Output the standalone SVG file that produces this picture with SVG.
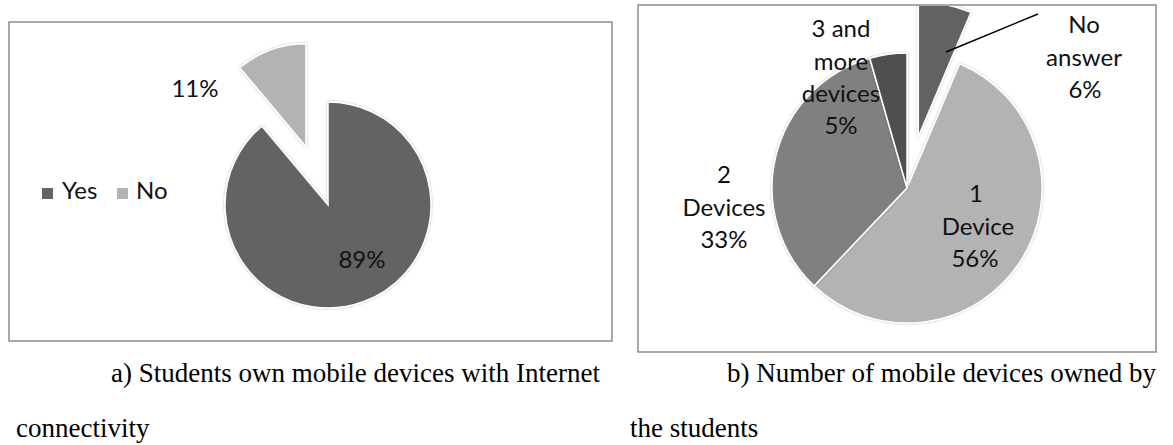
<svg xmlns="http://www.w3.org/2000/svg" width="1173" height="445" viewBox="0 0 1173 445">
  <style>
    .frame { fill: #ffffff; stroke: #8c8c8c; stroke-width: 1.5; }
    .slice { stroke: #ffffff; stroke-width: 1.5; stroke-linejoin: miter; filter: url(#soft); }
    .lbl { font-family: "Lato", "Liberation Sans", sans-serif; font-size: 24px; fill: #111111; text-anchor: middle; }
    .leg { font-family: "Lato", "Liberation Sans", sans-serif; font-size: 24px; fill: #111111; }
    .cap { font-family: "Liberation Serif", "Times New Roman", serif; font-size: 27px; fill: #000000; }
    .leader { stroke: #000000; stroke-width: 1.4; fill: none; }
  </style>
  <defs>
    <filter id="soft" x="-10%" y="-10%" width="120%" height="120%">
      <feDropShadow dx="0" dy="0" stdDeviation="1.3" flood-color="#000000" flood-opacity="0.3"/>
    </filter>
    <clipPath id="plotB">
      <rect x="639" y="6" width="516" height="345"/>
    </clipPath>
  </defs>

  <rect width="1173" height="445" fill="#ffffff"/>

  <!-- Chart a: internet-connected devices -->
  <g id="chart-a">
    <rect class="frame" x="9" y="22" width="603" height="319"/>
    <g id="slice-yes">
      <path class="slice" fill="#646464" d="M328,205 L328,102 A103,103 0 1 1 261.8,126.1 Z"/>
      <text class="lbl" x="362" y="268">89%</text>
    </g>
    <g id="slice-no">
      <path class="slice" fill="#b3b3b3" d="M306,146.7 L239.8,67.8 A103,103 0 0 1 306,43.7 Z"/>
      <text class="lbl" x="195" y="97">11%</text>
    </g>
    <g id="legend-a">
      <rect x="42" y="188" width="11" height="11" fill="#646464"/>
      <text class="leg" x="62" y="199">Yes</text>
      <rect x="117" y="188" width="11" height="11" fill="#b3b3b3"/>
      <text class="leg" x="136" y="199">No</text>
    </g>
  </g>

  <!-- Chart b: number of devices -->
  <g id="chart-b">
    <rect class="frame" x="638" y="5" width="518" height="347"/>
    <g id="slice-no-answer" clip-path="url(#plotB)">
      <path class="slice" fill="#626262" d="M918.3,136.7 L918.3,1.7 A135,135 0 0 1 971,12.4 Z"/>
    </g>
    <g id="slice-one">
      <path class="slice" fill="#b3b3b3" d="M907,188 L959.7,63.7 A135,135 0 1 1 814.1,285.9 Z"/>
      <text class="lbl" x="976" y="202">1</text>
      <text class="lbl" x="978" y="235">Device</text>
      <text class="lbl" x="975" y="267">56%</text>
    </g>
    <g id="slice-two">
      <path class="slice" fill="#808080" d="M907,188 L814.1,285.9 A135,135 0 0 1 869.8,58.2 Z"/>
      <text class="lbl" x="724" y="183">2</text>
      <text class="lbl" x="724" y="216">Devices</text>
      <text class="lbl" x="724" y="248">33%</text>
    </g>
    <g id="slice-three">
      <path class="slice" fill="#505050" d="M907,188 L869.8,58.2 A135,135 0 0 1 907,53 Z"/>
    </g>
    <g id="label-three">
      <text class="lbl" x="841" y="37">3 and</text>
      <text class="lbl" x="841" y="70">more</text>
      <text class="lbl" x="841" y="102">devices</text>
      <text class="lbl" x="841" y="134">5%</text>
    </g>
    <g id="label-no-answer">
      <text class="lbl" x="1084" y="33">No</text>
      <text class="lbl" x="1084" y="66">answer</text>
      <text class="lbl" x="1085" y="98">6%</text>
    </g>
  </g>

  <!-- Leader lines -->
  <g id="connectors">
    <line class="leader" x1="946" y1="52" x2="1038" y2="14"/>
  </g>

  <!-- Captions -->
  <g id="captions">
    <text class="cap" x="111" y="382">a) Students own mobile devices with Internet</text>
    <text class="cap" x="16" y="437">connectivity</text>
    <text class="cap" x="727" y="382">b) Number of mobile devices owned by</text>
    <text class="cap" x="630" y="437">the students</text>
  </g>
</svg>
